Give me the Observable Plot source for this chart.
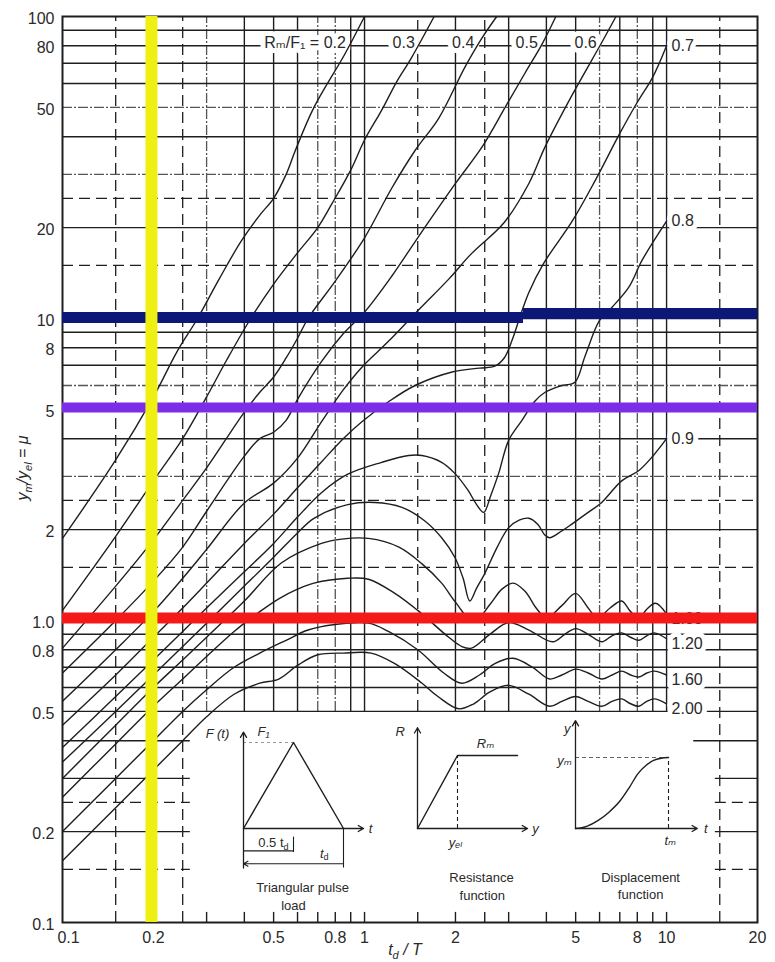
<!DOCTYPE html>
<html>
<head>
<meta charset="utf-8">
<script src="https://cdn.jsdelivr.net/npm/d3@7"></script>
<script src="https://cdn.jsdelivr.net/npm/@observablehq/plot@0.6"></script>
<style>
  body { margin: 0; background: #fff; }
  #wrap { position: relative; width: 775px; height: 962px; }
  #wrap svg { position: absolute; left: 0; top: 0; }
</style>
</head>
<body>
<div id="wrap"></div>
<script>
// ---------- DATA ----------
// Rm/F1 curve values: [td/T, ym/yel]
const c02 = [[0.1,1.87],[0.15,3.4],[0.2,5.5],[0.24,7.8],[0.28,10],[0.33,13.5],[0.39,18],[0.45,22],[0.5,25],[0.55,30],[0.59,36],[0.68,50],[0.86,75],[1.0,100]];
const c03 = [[0.1,1.08],[0.15,1.9],[0.2,2.9],[0.25,4.0],[0.3,5.5],[0.35,7.3],[0.42,10],[0.5,13],[0.6,16.5],[0.7,20],[0.78,24],[0.9,31],[1.0,39],[1.14,49],[1.28,61],[1.43,73],[1.7,100]];
const c04 = [[0.1,0.81],[0.15,1.3],[0.2,1.85],[0.25,2.5],[0.3,3.2],[0.4,4.9],[0.45,5.7],[0.5,6.4],[0.55,7.4],[0.6,8.6],[0.65,10],[0.8,13.3],[1.0,18.5],[1.23,27],[1.47,36],[1.76,46],[2.15,68],[2.45,85],[2.74,100]];
const c05 = [[0.1,0.67],[0.15,1.0],[0.2,1.35],[0.25,1.75],[0.3,2.3],[0.4,3.5],[0.45,4.0],[0.5,4.2],[0.55,4.6],[0.6,5.4],[0.72,7.2],[0.85,8.9],[1.0,10.5],[1.23,13.8],[1.5,18.5],[2.0,28],[2.45,37],[2.92,50],[3.4,65],[3.87,81],[4.3,100]];
const c06 = [[0.1,0.54],[0.15,0.8],[0.2,1.07],[0.25,1.38],[0.3,1.72],[0.4,2.45],[0.5,2.85],[0.6,3.45],[0.72,4.55],[0.85,5.8],[0.98,6.9],[1.2,8.4],[1.5,10.6],[1.9,13.5],[2.26,16.4],[2.9,20.8],[3.5,28],[3.96,37],[4.87,55],[6.1,82],[6.8,100]];
const c07 = [[0.1,0.45],[0.15,0.66],[0.2,0.88],[0.25,1.1],[0.3,1.33],[0.4,1.8],[0.5,2.25],[0.6,2.75],[0.72,3.35],[0.85,4.0],[0.98,4.55],[1.2,5.3],[1.47,6.0],[1.95,6.65],[2.4,6.85],[2.7,6.95],[2.9,7.4],[3.07,8.4],[3.3,10.4],[3.5,12.2],[3.93,15.3],[4.87,21],[5.8,28.6],[7.0,41],[8.0,52],[9.0,63],[10,80]];
const c08 = [[0.1,0.38],[0.15,0.56],[0.2,0.74],[0.25,0.92],[0.3,1.1],[0.4,1.45],[0.5,1.8],[0.6,2.2],[0.72,2.65],[0.88,3.05],[1.14,3.34],[1.4,3.52],[1.55,3.52],[1.8,3.34],[1.99,3.07],[2.2,2.7],[2.35,2.42],[2.48,2.28],[2.62,2.6],[2.78,3.07],[3.0,3.95],[3.32,4.6],[3.65,5.3],[3.96,5.7],[4.5,6.0],[4.97,6.15],[5.37,7.5],[6.0,9.85],[6.6,10.9],[7.5,12.7],[8.3,15.6],[10,21]];
const c09 = [[0.1,0.34],[0.15,0.5],[0.2,0.66],[0.25,0.82],[0.3,0.98],[0.4,1.3],[0.5,1.62],[0.6,1.95],[0.68,2.18],[0.88,2.42],[1.08,2.46],[1.33,2.37],[1.58,2.14],[1.8,1.88],[1.99,1.62],[2.12,1.38],[2.23,1.16],[2.35,1.28],[2.5,1.43],[2.75,1.75],[3.0,2.03],[3.25,2.15],[3.5,2.18],[3.75,2.08],[3.95,1.92],[4.1,1.88],[4.5,1.98],[4.87,2.09],[5.5,2.28],[6.1,2.46],[7.1,2.9],[8.1,3.14],[9.0,3.5],[10,4.0]];
const c10 = [[0.1,0.3],[0.15,0.45],[0.2,0.6],[0.25,0.74],[0.3,0.88],[0.4,1.16],[0.53,1.55],[0.72,1.8],[0.84,1.86],[1.03,1.87],[1.3,1.75],[1.55,1.54],[1.8,1.33],[2.0,1.15],[2.3,0.99],[2.6,1.13],[2.85,1.27],[3.1,1.33],[3.4,1.25],[3.7,1.1],[4.0,1.02],[4.5,1.12],[5.0,1.23],[5.5,1.1],[5.9,1.02],[6.5,1.1],[7.1,1.16],[7.6,1.07],[8.1,1.02],[8.6,1.09],[9.2,1.14],[10,1.05]];
const c12 = [[0.1,0.26],[0.15,0.39],[0.2,0.52],[0.25,0.64],[0.3,0.76],[0.37,0.92],[0.45,1.07],[0.52,1.18],[0.6,1.27],[0.68,1.33],[0.88,1.38],[1.03,1.37],[1.26,1.23],[1.5,1.08],[1.9,0.88],[2.1,0.82],[2.26,0.81],[2.6,0.9],[3.0,0.985],[3.5,0.93],[4.2,0.85],[4.6,0.9],[5.0,0.94],[5.5,0.9],[6.1,0.85],[6.6,0.89],[7.1,0.91],[7.6,0.88],[8.1,0.86],[8.6,0.89],[9.1,0.91],[10,0.87]];
const c16 = [[0.1,0.2],[0.15,0.3],[0.2,0.4],[0.25,0.5],[0.3,0.59],[0.37,0.7],[0.45,0.78],[0.55,0.86],[0.65,0.93],[0.8,0.97],[1.03,0.98],[1.2,0.92],[1.5,0.8],[1.83,0.67],[2.1,0.62],[2.4,0.66],[2.7,0.72],[3.1,0.75],[3.6,0.7],[4.1,0.64],[4.5,0.66],[5.0,0.69],[5.5,0.67],[6.1,0.64],[6.6,0.66],[7.1,0.68],[7.6,0.66],[8.1,0.65],[8.6,0.67],[9.1,0.68],[10,0.66]];
const c20 = [[0.1,0.16],[0.15,0.24],[0.2,0.32],[0.25,0.4],[0.3,0.48],[0.37,0.57],[0.45,0.62],[0.52,0.64],[0.6,0.71],[0.7,0.77],[0.85,0.78],[1.05,0.78],[1.26,0.72],[1.55,0.62],[1.75,0.56],[2.05,0.51],[2.3,0.53],[2.6,0.58],[3.0,0.61],[3.5,0.57],[4.1,0.52],[4.5,0.54],[5.0,0.56],[5.5,0.54],[6.1,0.52],[6.6,0.54],[7.1,0.55],[7.6,0.53],[8.1,0.52],[8.6,0.54],[9.1,0.55],[10,0.53]];

const rmLabels = ["0.2","0.3","0.4","0.5","0.6","0.7","0.8","0.9","1.00","1.20","1.60","2.00"];
const curveData = [c02,c03,c04,c05,c06,c07,c08,c09,c10,c12,c16,c20];

// tick labels
const yTickVals = [0.1,0.2,0.5,0.8,1,2,5,8,10,20,50,80,100];
const yTickLabels = ["0.1","0.2","0.5","0.8","1.0","2","5","8","10","20","50","80","100"];
const xTickVals = [0.1,0.2,0.5,0.8,1,2,5,8,10,20];
const xTickLabels = ["0.1","0.2","0.5","0.8","1","2","5","8","10","20"];

// grid values
const gridXSolid = [0.3,0.4,0.5,0.6,0.7,0.8,0.9,1,2,3,4,5,6,7,8,9,10];
const gridXLight = [0.3,0.7,0.8,6,8];
const gridXDashFull = [0.15,0.25,15];
const gridXDashUpper = [1.5,2.5];
const gridYSolid = [0.5,0.6,0.7,0.8,0.9,1,2,3,4,5,6,7,8,9,10,20,30,40,50,60,70,80,90];
const gridYLight = [3,6,30,50];
const gridYDash = [1.5,2.5,15,25];
const gridYLowSolid = [0.2,0.3,0.4];
const gridYLowDash = [0.15,0.25];
const bottomTicks = [0.3,0.4,0.5,0.6,0.7,0.8,0.9,1,1.5,2,2.5,3,4,5,6,7,8,9,10];
const bottomTickTop = 0.108;

// highlight lines
const yellowX = [0.197];
const navyLeft = [10.08], navyRight = [10.39], navySplit = 3.36;
const purpleY = [5.07];
const redY = [1.02];

// inset schematics
const pulseT = [0, 0.5, 1], pulseF = [0, 1, 0];
const resY = [0, 1, 2.5], resR = [0, 1, 1];
const dispT = [0,0.12,0.24,0.36,0.48,0.58,0.67,0.76,0.84,0.92,1];
const dispY = [0,0.03,0.11,0.23,0.39,0.58,0.77,0.89,0.96,0.99,1];

// ---------- RENDER ----------
const W = 775, H = 962;
const ink = "#1e1e1e";
const FONT = "'Liberation Sans', Arial, 'DejaVu Sans', sans-serif";
const wrap = document.getElementById("wrap");

function xAtY(pts, yv) {
  for (let i = 1; i < pts.length; i++) {
    const [xa, ya] = pts[i-1], [xb, yb] = pts[i];
    if ((ya - yv) * (yb - yv) <= 0 && ya !== yb) {
      const t = Math.log(yv / ya) / Math.log(yb / ya);
      return xa * Math.pow(xb / xa, t);
    }
  }
  return pts[pts.length - 1][0];
}

const topLabels = curveData.slice(0, 5).map((pts, i) => ({
  x: xAtY(pts, 82), y: 82, text: i === 0 ? "Rₘ/F₁ = 0.2" : rmLabels[i]
}));
const rightLabels = curveData.slice(5).map((pts, i) => {
  const p = pts[pts.length - 1];
  return {x: p[0], y: p[1], text: rmLabels[i + 5]};
});
const xTicks = xTickVals.map((v, i) => ({v, label: xTickLabels[i]}));
const yTicks = yTickVals.map((v, i) => ({v, label: yTickLabels[i]}));

const solid = {stroke: ink, strokeWidth: 1.4};
const light = {stroke: "#555", strokeWidth: 1.3, strokeDasharray: "10,2,2,2"};
const dashed = {stroke: ink, strokeWidth: 1.3, strokeDasharray: "11,6"};
const halo = {stroke: "white", strokeWidth: 10, paintOrder: "stroke", strokeLinejoin: "round"};

const chart = Plot.plot({
  width: W, height: H,
  marginLeft: 62, marginRight: 18, marginTop: 16, marginBottom: 40,
  x: {type: "log", domain: [0.1, 20], axis: null},
  y: {type: "log", domain: [0.1, 100], axis: null},
  style: {fontFamily: FONT, color: ink, background: "white"},
  marks: [
    // grid
    Plot.ruleX(gridXSolid.filter(v => !gridXLight.includes(v)), {y1: 0.5, y2: 100, ...solid}),
    Plot.ruleX(gridXLight, {y1: 0.5, y2: 100, ...light}),
    Plot.ruleX([0.2], {y1: 0.1, y2: 100, ...solid}),
    Plot.ruleX(gridXDashFull, {y1: 0.1, y2: 100, ...dashed}),
    Plot.ruleX(gridXDashUpper, {y1: 0.5, y2: 100, ...dashed}),
    Plot.ruleY(gridYSolid.filter(v => !gridYLight.includes(v)), {x1: 0.1, x2: 20, ...solid}),
    Plot.ruleY(gridYLight, {x1: 0.1, x2: 20, ...light}),
    Plot.ruleY(gridYDash, {x1: 0.1, x2: 20, ...dashed}),
    Plot.ruleY(gridYLowSolid, {x1: 0.1, x2: 0.265, ...solid}),
    Plot.ruleY(gridYLowDash, {x1: 0.1, x2: 0.265, ...dashed}),
    Plot.ruleY(gridYLowSolid, {x1: d => d === 0.4 ? 12.3 : 14.5, x2: 20, ...solid}),
    Plot.ruleY(gridYLowDash, {x1: 14.5, x2: 20, ...dashed}),
    Plot.ruleX(bottomTicks, {y1: 0.1, y2: bottomTickTop, ...solid}),
    Plot.frame({stroke: ink, strokeWidth: 2}),
    // tick labels
    Plot.text(yTicks, {x: 0.1, y: "v", text: "label", textAnchor: "end", dx: -8, dy: 2, fontSize: 16, fill: "#2a2a2a"}),
    Plot.text(xTicks.slice(1), {x: "v", y: 0.1, text: "label", dy: 15, fontSize: 16, fill: "#2a2a2a"}),
    Plot.text(xTicks.slice(0, 1), {x: "v", y: 0.1, text: "label", dy: 15, dx: 6, fontSize: 16, fill: "#2a2a2a"}),
    // curve labels (white halo)
    Plot.text(topLabels, {x: "x", y: "y", text: "text", textAnchor: "end", dx: -5, fontSize: 16, fill: "#2a2a2a", ...halo}),
    Plot.text(rightLabels.slice(0, 3), {x: "x", y: "y", text: "text", textAnchor: "start", dx: 5, fontSize: 16, fill: "#2a2a2a", ...halo}),
    Plot.text(rightLabels.slice(3), {x: "x", y: "y", text: "text", textAnchor: "start", dx: 5, dy: 5, fontSize: 16, fill: "#2a2a2a", ...halo}),
    // curves
    ...curveData.map(pts => Plot.line(pts, {x: d => d[0], y: d => d[1], curve: "catmull-rom", stroke: ink, strokeWidth: 1.4, clip: true})),
    // highlight lines
    Plot.ruleY(navyLeft, {x1: 0.1, x2: navySplit, stroke: "#0c1878", strokeWidth: 11}),
    Plot.ruleY(navyRight, {x1: navySplit, x2: 20, stroke: "#0c1878", strokeWidth: 11}),
    Plot.ruleY(purpleY, {x1: 0.1, x2: 20, stroke: "#7a2ee6", strokeWidth: 10}),
    Plot.ruleY(redY, {x1: 0.1, x2: 20, stroke: "#f51a1a", strokeWidth: 11}),
    Plot.ruleX(yellowX, {y1: 0.1, y2: 100, stroke: "#eeef12", strokeWidth: 12})
  ]
});
wrap.append(chart);

// axis titles with sub-scripts
const svg = d3.select(chart);
const yt = svg.append("text")
  .attr("transform", "translate(28,468) rotate(-90)")
  .attr("text-anchor", "middle").attr("font-size", 16).attr("font-style", "italic")
  .attr("fill", "#2a2a2a").attr("font-family", FONT);
yt.append("tspan").text("y");
yt.append("tspan").attr("font-size", 11).attr("dy", 4).text("m");
yt.append("tspan").attr("dy", -4).text("/y");
yt.append("tspan").attr("font-size", 11).attr("dy", 4).text("el");
yt.append("tspan").attr("dy", -4).text(" = μ");

const xt = svg.append("text")
  .attr("x", 405).attr("y", 955)
  .attr("text-anchor", "middle").attr("font-size", 16).attr("font-style", "italic")
  .attr("fill", "#2a2a2a").attr("font-family", FONT);
xt.append("tspan").text("t");
xt.append("tspan").attr("font-size", 11).attr("dy", 4).text("d");
xt.append("tspan").attr("dy", -4).text(" / T");

// ---------- INSETS ----------
function inset(xDomain, xRange, yDomain, yRange, marks) {
  const el = Plot.plot({
    width: W, height: H, margin: 0,
    x: {type: "linear", domain: xDomain, range: xRange, axis: null},
    y: {type: "linear", domain: yDomain, range: yRange, axis: null},
    style: {fontFamily: FONT, color: ink, background: "transparent", pointerEvents: "none"},
    marks
  });
  wrap.append(el);
}
const ax = {stroke: ink, strokeWidth: 1.3, headLength: 7};
const txt = {fill: "#2a2a2a", fontSize: 13};
const seg = (a) => [{x1: a[0], y1: a[1], x2: a[2], y2: a[3]}];
const segOpts = {x1: "x1", y1: "y1", x2: "x2", y2: "y2"};

// 1. triangular pulse load
inset([0, 1], [243, 343], [0, 1], [828, 742], [
  Plot.ruleY([1], {x1: 0, x2: 0.5, stroke: "#999", strokeDasharray: "3,3"}),
  Plot.line(pulseT.map((t, i) => [t, pulseF[i]]), {x: d => d[0], y: d => d[1], stroke: ink, strokeWidth: 1.4}),
  Plot.arrow(seg([0, -0.46, 0, 1.12]), {...segOpts, ...ax}),
  Plot.arrow(seg([0, 0, 1.2, 0]), {...segOpts, ...ax}),
  Plot.ruleY([-0.26], {x1: 0, x2: 0.5, stroke: ink, strokeWidth: 1.1}),
  Plot.ruleX([0.5], {y1: -0.1, y2: -0.28, stroke: ink, strokeWidth: 1.1}),
  Plot.arrow(seg([1, -0.41, 0, -0.41]), {...segOpts, ...ax, strokeWidth: 1.1}),
  Plot.ruleX([1], {y1: 0, y2: -0.46, stroke: ink, strokeWidth: 1.1}),
  Plot.text(["F (t)"], {x: -0.26, y: 1.1, text: d => d, ...txt, fontStyle: "italic"}),
  Plot.text(["F₁"], {x: 0.2, y: 1.12, text: d => d, ...txt, fontStyle: "italic"}),
  Plot.text(["t"], {x: 1.27, y: 0, text: d => d, ...txt, fontStyle: "italic"}),
  Plot.text(["0.5 t"], {x: 0.4, y: -0.17, text: d => d, ...txt, textAnchor: "end"}),
  Plot.text(["d"], {x: 0.4, y: -0.17, text: d => d, ...txt, fontSize: 9, textAnchor: "start", dy: 4}),
  Plot.text(["t"], {x: 0.8, y: -0.29, text: d => d, ...txt, textAnchor: "end", fontStyle: "italic"}),
  Plot.text(["d"], {x: 0.8, y: -0.29, text: d => d, ...txt, fontSize: 9, textAnchor: "start", dy: 4}),
  Plot.text(["Triangular pulse"], {x: 0.59, y: -0.69, text: d => d, ...txt}),
  Plot.text(["load"], {x: 0.5, y: -0.9, text: d => d, ...txt})
]);

// 2. resistance function
inset([0, 1], [417, 457], [0, 1], [828, 755], [
  Plot.ruleX([1], {y1: 0, y2: 1, stroke: ink, strokeDasharray: "4,3", strokeWidth: 1.1}),
  Plot.line(resY.map((v, i) => [v, resR[i]]), {x: d => d[0], y: d => d[1], stroke: ink, strokeWidth: 1.4}),
  Plot.arrow(seg([0, 0, 0, 1.38]), {...segOpts, ...ax}),
  Plot.arrow(seg([0, 0, 2.75, 0]), {...segOpts, ...ax}),
  Plot.text(["R"], {x: -0.43, y: 1.32, text: d => d, ...txt, fontStyle: "italic"}),
  Plot.text(["Rₘ"], {x: 1.7, y: 1.16, text: d => d, ...txt, fontStyle: "italic"}),
  Plot.text(["y"], {x: 2.95, y: 0, text: d => d, ...txt, fontStyle: "italic"}),
  Plot.text(["yₑₗ"], {x: 0.95, y: -0.19, text: d => d, ...txt, fontStyle: "italic"}),
  Plot.text(["Resistance"], {x: 1.6, y: -0.68, text: d => d, ...txt}),
  Plot.text(["function"], {x: 1.62, y: -0.92, text: d => d, ...txt})
]);

// 3. displacement function
inset([0, 1], [575, 668], [0, 1], [828, 757], [
  Plot.ruleY([1], {x1: 0, x2: 1, stroke: "#666", strokeDasharray: "4,3", strokeWidth: 1}),
  Plot.ruleX([1], {y1: 0, y2: 1, stroke: ink, strokeDasharray: "4,3", strokeWidth: 1.1}),
  Plot.line(dispT.map((t, i) => [t, dispY[i]]), {x: d => d[0], y: d => d[1], curve: "monotone-x", stroke: ink, strokeWidth: 1.4}),
  Plot.arrow(seg([0, 0, 0, 1.52]), {...segOpts, ...ax}),
  Plot.arrow(seg([0, 0, 1.31, 0]), {...segOpts, ...ax}),
  Plot.text(["y"], {x: -0.09, y: 1.41, text: d => d, ...txt, fontStyle: "italic"}),
  Plot.text(["yₘ"], {x: -0.04, y: 0.95, text: d => d, ...txt, textAnchor: "end", fontStyle: "italic"}),
  Plot.text(["t"], {x: 1.4, y: 0, text: d => d, ...txt, fontStyle: "italic"}),
  Plot.text(["tₘ"], {x: 1.02, y: -0.17, text: d => d, ...txt, fontStyle: "italic"}),
  Plot.text(["Displacement"], {x: 0.7, y: -0.69, text: d => d, ...txt}),
  Plot.text(["function"], {x: 0.7, y: -0.94, text: d => d, ...txt})
]);
</script>
</body>
</html>
